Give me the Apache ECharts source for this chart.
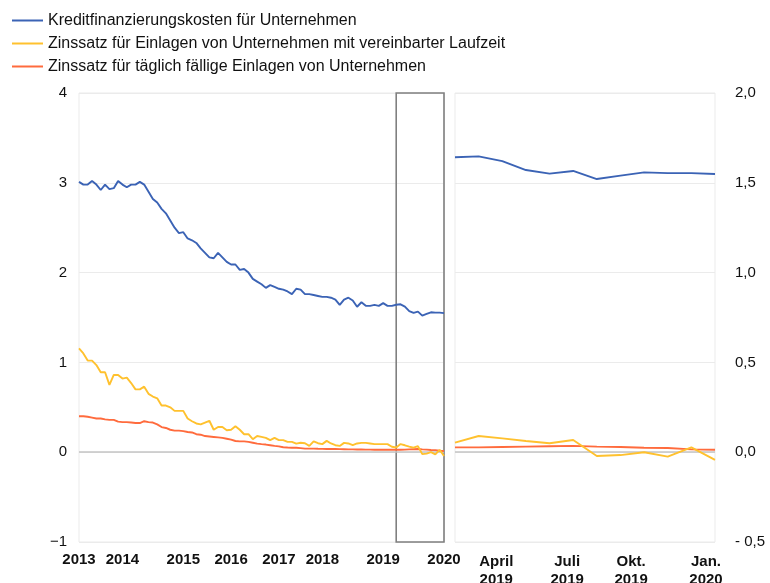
<!DOCTYPE html>
<html>
<head>
<meta charset="utf-8">
<script src="https://cdn.jsdelivr.net/npm/echarts@6/dist/echarts.min.js"></script>
<style>
html,body{margin:0;padding:0;background:#fff;}
#chart{width:770px;height:583px;}
</style>
</head>
<body>
<div id="chart"></div>
<script>
// ---- Data (monthly, Jan 2013 - Jan 2020) ----
var months = [];
for (var y = 2013; y <= 2020; y++) {
  for (var m = 1; m <= 12; m++) {
    if (y === 2020 && m > 1) break;
    months.push(y + '-' + (m < 10 ? '0' + m : m));
  }
}
var seriesNames = [
  'Kreditfinanzierungskosten für Unternehmen',
  'Zinssatz für Einlagen von Unternehmen mit vereinbarter Laufzeit',
  'Zinssatz für täglich fällige Einlagen von Unternehmen'
];
var kreditkosten = [3.01,2.98,2.98,3.02,2.98,2.92,2.98,2.93,2.94,3.02,
  2.98,2.95,2.98,2.98,3.01,2.98,2.90,2.82,2.78,2.71,
  2.66,2.58,2.50,2.44,2.45,2.38,2.36,2.33,2.27,2.22,
  2.17,2.16,2.22,2.17,2.12,2.09,2.09,2.03,2.04,2.00,
  1.93,1.90,1.87,1.83,1.86,1.84,1.82,1.81,1.79,1.76,
  1.82,1.81,1.76,1.76,1.75,1.74,1.73,1.73,1.72,1.70,
  1.64,1.70,1.72,1.69,1.62,1.67,1.63,1.63,1.64,1.63,
  1.66,1.63,1.63,1.642,1.647,1.621,1.571,1.551,1.566,1.521,
  1.540,1.558,1.554,1.554,1.549];
var einlagenLaufzeit = [1.155,1.10,1.02,1.02,0.97,0.89,0.89,0.75,0.86,0.86,
  0.82,0.83,0.77,0.70,0.70,0.73,0.65,0.62,0.60,0.52,
  0.52,0.50,0.46,0.46,0.46,0.375,0.345,0.32,0.31,0.33,
  0.35,0.25,0.28,0.28,0.245,0.25,0.29,0.25,0.20,0.20,
  0.145,0.18,0.17,0.16,0.135,0.16,0.135,0.135,0.115,0.115,
  0.095,0.105,0.10,0.07,0.12,0.10,0.09,0.126,0.097,0.078,
  0.07,0.104,0.097,0.078,0.097,0.104,0.104,0.097,0.09,0.09,
  0.09,0.09,0.06,0.053,0.09,0.077,0.062,0.05,0.068,-0.021,
  -0.016,0.0,-0.025,0.027,-0.043];
var einlagenTaeglich = [0.40,0.40,0.395,0.385,0.375,0.375,0.365,0.36,0.36,0.34,
  0.335,0.335,0.33,0.325,0.325,0.345,0.335,0.33,0.31,0.28,
  0.27,0.25,0.24,0.24,0.235,0.225,0.22,0.20,0.195,0.18,
  0.175,0.17,0.165,0.16,0.15,0.14,0.125,0.12,0.12,0.115,
  0.105,0.095,0.09,0.085,0.078,0.07,0.065,0.055,0.052,0.05,
  0.05,0.045,0.04,0.04,0.04,0.038,0.037,0.036,0.035,0.035,
  0.034,0.033,0.032,0.031,0.030,0.030,0.029,0.029,0.028,0.028,
  0.027,0.027,0.027,0.027,0.027,0.029,0.031,0.033,0.035,0.031,
  0.029,0.025,0.023,0.016,0.014];

// Zoom window (right panel)
var zoomStart = '2019-02';
var zoomEnd = '2020-01';

// Tick labels
var leftTickAt = ['2013-01','2013-11','2015-01','2015-12','2016-11','2017-09','2018-11','2020-01'];
var leftTickText = ['2013','2014','2015','2016','2017','2018','2019','2020'];
var rightTickAt = ['2019-04','2019-07','2019-10','2020-01'];
var rightTickText = [['April','2019'],['Juli','2019'],['Okt.','2019'],['Jan.','2020']];
var leftYTicks = {min: -1, max: 4, interval: 1};
var rightYTicks = {min: -0.5, max: 2.0, interval: 0.5};

// ---- Chart ----
var zi = months.indexOf(zoomStart);
var ze = months.indexOf(zoomEnd);
var zoomMonths = months.slice(zi, ze + 1);
var colors = ['#3b63b5', '#ffc12e', '#ff6b3d'];
var allData = [kreditkosten, einlagenLaufzeit, einlagenTaeglich];
var rightShift = {'2019-04': 12, '2019-07': 12, '2019-10': 26, '2020-01': 18};

var font = '"Liberation Sans", Arial, sans-serif';
var gridColor = '#ebebeb';

var series = [];
allData.forEach(function (d, k) {
  series.push({
    name: seriesNames[k], type: 'line', xAxisIndex: 0, yAxisIndex: 0,
    data: d, symbol: 'none', lineStyle: {color: colors[k], width: 1.9},
    itemStyle: {color: colors[k]}, z: 5 - k, animation: false
  });
});
series[2].markLine = {
  silent: true, symbol: 'none', label: {show: false},
  lineStyle: {color: '#c4c4c4', width: 1.5, type: 'solid'},
  data: [{yAxis: 0}], z: 1
};
series[0].markArea = {
  silent: true,
  itemStyle: {color: 'rgba(0,0,0,0)', borderColor: '#808080', borderWidth: 1.6},
  data: [[{xAxis: zoomStart}, {xAxis: zoomEnd}]]
};
allData.forEach(function (d, k) {
  series.push({
    name: seriesNames[k], type: 'line', xAxisIndex: 1, yAxisIndex: 1,
    data: d.slice(zi, ze + 1), symbol: 'none', lineStyle: {color: colors[k], width: 1.9},
    itemStyle: {color: colors[k]}, z: 5 - k, animation: false
  });
});
series[5].markLine = {
  silent: true, symbol: 'none', label: {show: false},
  lineStyle: {color: '#c4c4c4', width: 1.5, type: 'solid'},
  data: [{yAxis: 0}], z: 1
};

var rightRich = {};
Object.keys(rightShift).forEach(function (key, i) {
  rightRich['r' + i] = {fontFamily: font, fontSize: 15, fontWeight: 'bold', color: '#111',
    lineHeight: 18, padding: [0, rightShift[key], 0, 0]};
});

var option = {
  animation: false,
  textStyle: {fontFamily: font},
  legend: {
    orient: 'vertical', left: 12, top: 12, itemGap: 6, padding: 0,
    itemWidth: 31, itemHeight: 2, icon: 'rect',
    textStyle: {fontFamily: font, fontSize: 16, color: '#111', lineHeight: 17},
    data: seriesNames
  },
  grid: [
    {left: 79, right: 326, top: 93, bottom: 41, show: true, borderColor: gridColor, borderWidth: 1,
     containLabel: false, outerBoundsMode: 'none'},
    {left: 455, right: 55, top: 93, bottom: 41, show: true, borderColor: gridColor, borderWidth: 1,
     containLabel: false, outerBoundsMode: 'none'}
  ],
  xAxis: [
    {
      type: 'category', gridIndex: 0, data: months, boundaryGap: false,
      axisLine: {show: false}, axisTick: {show: false}, splitLine: {show: false},
      axisLabel: {
        interval: function (idx, val) { return leftTickAt.indexOf(val) >= 0; },
        formatter: function (val) { var i = leftTickAt.indexOf(val); return i >= 0 ? leftTickText[i] : ''; },
        fontFamily: font, fontSize: 15, fontWeight: 'bold', color: '#111', margin: 10,
        showMinLabel: true, showMaxLabel: true, hideOverlap: false
      }
    },
    {
      type: 'category', gridIndex: 1, data: zoomMonths, boundaryGap: false,
      axisLine: {show: false}, axisTick: {show: false}, splitLine: {show: false},
      axisLabel: {
        interval: function (idx, val) { return rightTickAt.indexOf(val) >= 0; },
        formatter: function (val) {
          var i = rightTickAt.indexOf(val);
          if (i < 0) return '';
          return '{r' + i + '|' + rightTickText[i][0] + '}\n{r' + i + '|' + rightTickText[i][1] + '}';
        },
        rich: rightRich, margin: 11, showMinLabel: true, showMaxLabel: true, hideOverlap: false
      }
    }
  ],
  yAxis: [
    {
      type: 'value', gridIndex: 0, min: leftYTicks.min, max: leftYTicks.max, interval: leftYTicks.interval,
      axisLine: {show: false}, axisTick: {show: false},
      splitLine: {lineStyle: {color: gridColor, width: 1}},
      axisLabel: {
        fontFamily: font, fontSize: 15, color: '#111', margin: 12,
        formatter: function (v) { return v < 0 ? '\u2212' + Math.abs(v) : String(v); }
      }
    },
    {
      type: 'value', gridIndex: 1, position: 'right', min: rightYTicks.min, max: rightYTicks.max, interval: rightYTicks.interval,
      axisLine: {show: false}, axisTick: {show: false},
      splitLine: {lineStyle: {color: gridColor, width: 1}},
      axisLabel: {
        fontFamily: font, fontSize: 15, color: '#111', margin: 20,
        formatter: function (v) {
          var s = Math.abs(v).toFixed(1).replace('.', ',');
          return v < 0 ? '- ' + s : s;
        }
      }
    }
  ],
  series: series
};

var chart = echarts.init(document.getElementById('chart'), null, {renderer: 'canvas'});
chart.setOption(option);
</script>
</body>
</html>
